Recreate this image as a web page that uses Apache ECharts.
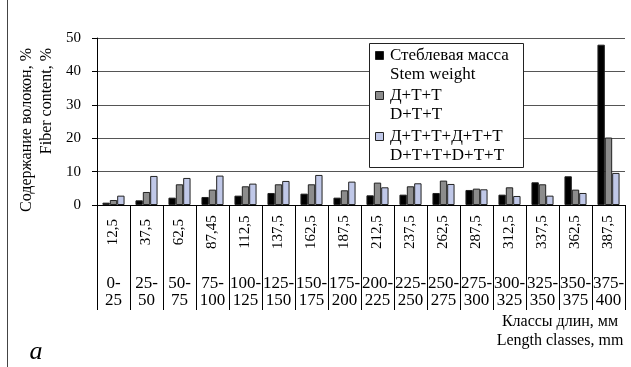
<!DOCTYPE html>
<html>
<head>
<meta charset="utf-8">
<script src="https://cdn.jsdelivr.net/npm/echarts@6/dist/echarts.min.js"></script>
<style>html,body{margin:0;padding:0;background:#fff}#c{width:631px;height:367px}</style>
</head>
<body>
<div id="c"></div>
<script>
const midpoints = ['12,5','37,5','62,5','87,45','112,5','137,5','162,5','187,5','212,5','237,5','262,5','287,5','312,5','337,5','362,5','387,5'];
const ranges = ['0-\n25','25-\n50','50-\n75','75-\n100','100-\n125','125-\n150','150-\n175','175-\n200','200-\n225','225-\n250','250-\n275','275-\n300','300-\n325','325-\n350','350-\n375','375-\n400'];
const stemWeight = [0.7,1.4,2.2,2.4,2.8,3.6,3.4,2.2,2.9,3.1,3.6,4.5,3.1,6.8,8.6,48.0];
const dtt = [1.5,3.9,6.2,4.6,5.6,6.2,6.2,4.4,6.7,5.6,7.3,4.9,5.3,6.2,4.6,20.2];
const dttdtt = [2.8,8.7,8.1,8.8,6.4,7.2,9.0,7.0,5.3,6.5,6.3,4.7,2.7,2.8,3.6,9.6];
const seriesNames = [['Стеблевая масса','Stem weight'],['Д+Т+Т','D+T+T'],['Д+Т+Т+Д+Т+Т','D+T+T+D+T+T']];
const colors = ['#000000','#8c8c8c','#c0c8e8'];
const yTicks = [0,10,20,30,40,50];

const FONT = "'Liberation Serif','Times New Roman',serif";
const chart = echarts.init(document.getElementById('c'), null, {renderer:'canvas'});

const seriesData = [stemWeight, dtt, dttdtt];
const series = seriesData.map((d,i)=>({
  type:'bar', name: seriesNames[i][0], data:d, xAxisIndex:0, yAxisIndex:0,
  barGap:'0%', barCategoryGap:'33%',
  itemStyle:{color:colors[i], borderColor:'#222', borderWidth:1},
  emphasis:{disabled:true}
}));

const legendGraphics = [];
legendGraphics.push({type:'rect', shape:{x:369.5,y:43.5,width:154,height:124}, style:{fill:'#fff',stroke:'#222',lineWidth:1}, z:100});
const firstLineY = [56, 96, 137];
seriesNames.forEach((n,i)=>{
  legendGraphics.push({type:'rect', shape:{x:375.5,y:firstLineY[i]-4.5,width:8,height:8}, style:{fill:colors[i],stroke:'#222',lineWidth:1}, z:101});
  legendGraphics.push({type:'text', x:390, y:firstLineY[i], style:{text:n[0], font:'17px '+FONT, fill:'#000', textVerticalAlign:'middle'}, z:101});
  legendGraphics.push({type:'text', x:390, y:firstLineY[i]+19, style:{text:n[1], font:'17px '+FONT, fill:'#000', textVerticalAlign:'middle'}, z:101});
});

chart.setOption({
  animation:false,
  backgroundColor:'#fff',
  grid:{left:97, right:6, top:38, bottom:162, containLabel:false},
  xAxis:[{
    type:'category', data:midpoints, position:'bottom',
    axisLine:{show:true, lineStyle:{color:'#000',width:1}},
    axisTick:{show:true, length:105, interval:0, lineStyle:{color:'#000',width:1}},
    axisLabel:{interval:0, rotate:90, margin:27, align:'center', verticalAlign:'middle', color:'#000', fontSize:15, fontFamily:FONT},
    splitLine:{show:false}
  },{
    type:'category', data:ranges, position:'bottom', offset:0,
    axisLine:{show:false}, axisTick:{show:false},
    axisLabel:{interval:0, margin:70, color:'#000', fontSize:17, lineHeight:17, fontFamily:FONT},
    splitLine:{show:false}
  }],
  yAxis:{
    type:'value', min:0, max:50, interval:10,
    axisLine:{show:true, lineStyle:{color:'#000',width:1}},
    axisTick:{show:true, length:5, lineStyle:{color:'#000'}},
    axisLabel:{margin:16, color:'#000', fontSize:15, fontFamily:FONT, formatter:(v)=> yTicks.includes(v)? String(v):''},
    splitLine:{show:true, lineStyle:{color:'#555',width:1}}
  },
  series: series,
  graphic: legendGraphics.concat([
    {type:'text', x:27, y:48, rotation:Math.PI/2, style:{text:'Содержание волокон, %', font:'16px '+FONT, fill:'#000', textAlign:'right', textVerticalAlign:'middle'}},
    {type:'text', x:47, y:48, rotation:Math.PI/2, style:{text:'Fiber content, %', font:'16px '+FONT, fill:'#000', textAlign:'right', textVerticalAlign:'middle'}},
    {type:'text', x:560, y:322, style:{text:'Классы длин, мм', font:'16px '+FONT, fill:'#000', textAlign:'center', textVerticalAlign:'middle'}},
    {type:'text', x:560, y:341, style:{text:'Length classes, mm', font:'16px '+FONT, fill:'#000', textAlign:'center', textVerticalAlign:'middle'}},
    {type:'text', x:36, y:352, style:{text:'а', font:'italic 26px '+FONT, fill:'#000', textAlign:'center', textVerticalAlign:'middle'}},
    {type:'line', shape:{x1:7.5,y1:0,x2:7.5,y2:367}, style:{stroke:'#444',lineWidth:1}}
  ])
});
</script>
</body>
</html>
